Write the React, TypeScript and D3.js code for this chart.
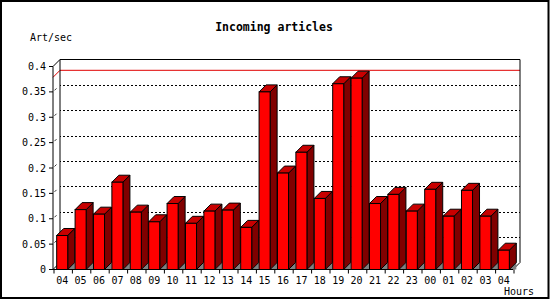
import React from "react";
import * as d3 from "d3";

const hours = ["04","05","06","07","08","09","10","11","12","13","14","15","16","17","18","19","20","21","22","23","00","01","02","03","04"];
const values = [0.067, 0.118, 0.109, 0.172, 0.113, 0.094, 0.130, 0.091, 0.115, 0.117, 0.083, 0.350, 0.190, 0.231, 0.140, 0.366, 0.377, 0.130, 0.148, 0.115, 0.158, 0.105, 0.156, 0.105, 0.038];
const yTicks = [0, 0.05, 0.1, 0.15, 0.2, 0.25, 0.3, 0.35, 0.4];
const yTickLabels = ["0", "0.05", "0.1", "0.15", "0.2", "0.25", "0.3", "0.35", "0.4"];
const gridValues = [0.05, 0.1, 0.15, 0.2, 0.25, 0.3, 0.35];
const maxLine = 0.3787;
const title = "Incoming articles";
const yTitle = "Art/sec";
const xTitle = "Hours";

const W = 550, H = 300;
const left = 53, right = 513, DX = 7, DY = 7;
const FONT = "'DejaVu Sans Mono', monospace";

export default function App() {
  const x = d3.scaleBand<number>()
    .domain(values.map((_, i) => i))
    .range([left, right])
    .paddingInner(0.4)
    .paddingOuter(0.2);
  const y = d3.scaleLinear().domain([0, 0.4]).range([269.5, 66.5]);
  const step = x.step();
  const bw = x.bandwidth();
  const y0 = y(0);
  const yTop = y(0.4);
  const pts = (a: number[][]) => a.map(p => p.join(",")).join(" ");

  return (
    <svg width={W} height={H} style={{ position: "absolute", left: 0, top: 0, background: "#fff" }}>
      <rect x={1} y={1} width={547.5} height={297} fill="#fff" stroke="#000" strokeWidth={2} />
      <text x={274} y={31} textAnchor="middle" fontFamily={FONT} fontWeight="bold" fontSize={11.5}>{title}</text>
      <text x={30} y={40.5} fontFamily={FONT} fontSize={10}>{yTitle}</text>
      <text x={504} y={295} fontFamily={FONT} fontSize={10}>{xTitle}</text>

      {/* grid lines on back plane */}
      {gridValues.map((v, i) => (
        <g key={"g" + i}>
          <line x1={left + DX} x2={right + DX} y1={y(v) - DY + 0.5} y2={y(v) - DY + 0.5}
            stroke="#000" strokeDasharray="2,2" strokeDashoffset={-3} shapeRendering="crispEdges" />
          <line x1={left + 1.5} y1={y(v) - 1.5} x2={left + 3.5} y2={y(v) - 3.5} stroke="#000" strokeWidth={0.8} />
        </g>
      ))}

      {/* max line */}
      <polyline points={pts([[left, y(maxLine)], [left + DX, y(maxLine) - DY], [right + DX, y(maxLine) - DY]])}
        fill="none" stroke="#e00000" strokeWidth={1} />

      {/* frame of 3D box */}
      <polyline points={pts([[left, yTop], [left + DX, yTop - DY], [right + DX, yTop - DY], [right + DX, y0 - DY], [right, y0]])}
        fill="none" stroke="#000" strokeWidth={1} />
      <polyline points={pts([[left + DX, yTop - DY], [left + DX, y0 - DY], [left, y0]])}
        fill="none" stroke="#000" strokeWidth={1} />

      {/* bars */}
      {values.map((v, i) => {
        const x0 = x(i)!;
        const yt = y(v);
        return (
          <g key={"b" + i}>
            <polygon points={pts([[x0 + bw, y0], [x0 + bw + DX, y0 - DY], [x0 + bw + DX, y0]])} fill="#808080" />
            <polygon points={pts([[x0 + bw, yt], [x0 + bw + DX, yt - DY], [x0 + bw + DX, y0 - DY], [x0 + bw, y0]])}
              fill="#800000" stroke="#000" strokeWidth={1} strokeLinejoin="round" />
            <polygon points={pts([[x0, yt], [x0 + DX, yt - DY], [x0 + bw + DX, yt - DY], [x0 + bw, yt]])}
              fill="#c80000" stroke="#000" strokeWidth={1} strokeLinejoin="round" />
            <rect x={x0} y={yt} width={bw} height={y0 - yt} fill="#ff0000" stroke="#000" strokeWidth={1} />
          </g>
        );
      })}

      {/* y axis */}
      <line x1={left} x2={left} y1={yTop} y2={y0} stroke="#000" />
      {yTicks.map((v, i) => (
        <g key={"yt" + i}>
          <line x1={left - 4} x2={left} y1={y(v)} y2={y(v)} stroke="#000" />
          <text x={46} y={y(v) + 3.5} textAnchor="end" fontFamily={FONT} fontSize={10}>{yTickLabels[i]}</text>
        </g>
      ))}

      {/* x axis */}
      <line x1={left} x2={right} y1={y0} y2={y0} stroke="#000" />
      {d3.range(values.length + 1).map(i => (
        <line key={"xt" + i} x1={left + step * i + 1} x2={left + step * i + 1} y1={y0} y2={y0 + 4} stroke="#000" />
      ))}
      {hours.map((h, i) => (
        <text key={"xl" + i} x={x(i)! + bw / 2} y={283.5} textAnchor="middle" fontFamily={FONT} fontSize={10}>{h}</text>
      ))}
    </svg>
  );
}
